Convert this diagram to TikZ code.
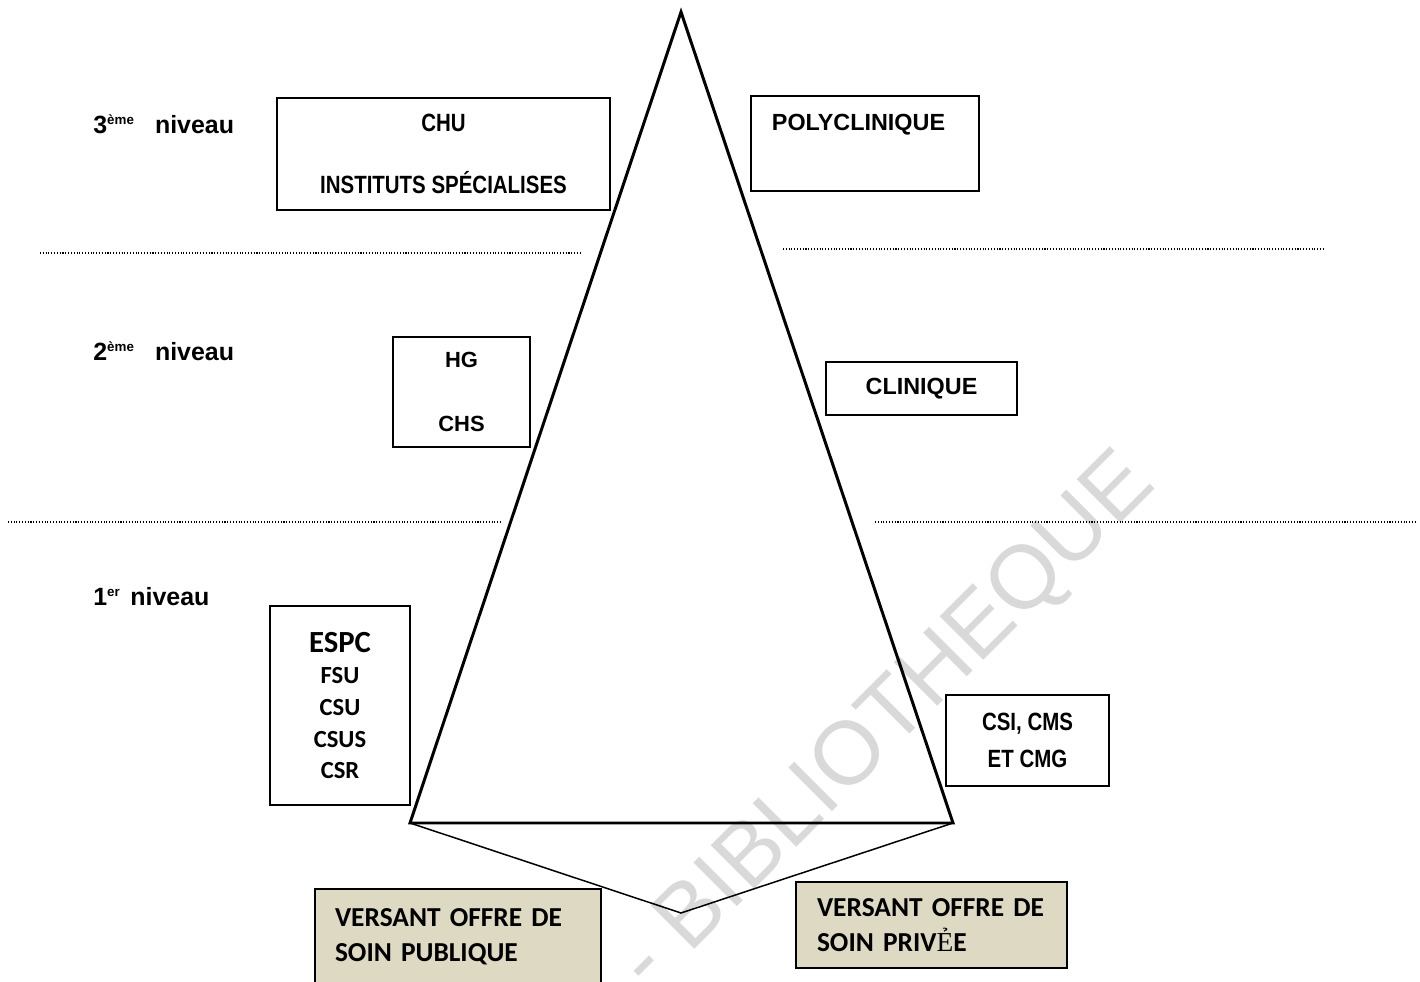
\documentclass[tikz,border=0pt]{standalone}
\usepackage{fontspec}
\setmainfont{Liberation Sans}
\newfontfamily\narrowfont[FakeStretch=0.82]{Liberation Sans}
\newfontfamily\calibrifont{Carlito}
\newfontfamily\timesfont{Liberation Serif}
\newcommand{\lvlsup}[1]{\raisebox{5.5pt}{\fontsize{7.6}{8}\selectfont #1}}
\definecolor{versantfill}{HTML}{DDD9C3}
\definecolor{wmgray}{HTML}{D9D9D9}

\begin{document}
\begin{tikzpicture}[x=0.02cm,y=-0.02cm,
  level node/.style={anchor=base west,inner sep=0,font=\bfseries\fontsize{14.2}{17}\selectfont},
  box node/.style={draw,line width=1.1pt,inner sep=0,align=center},
  versant node/.style={box node,fill=versantfill,align=left,
    font=\calibrifont\bfseries\fontsize{15.6}{20}\selectfont},
  sep line/.style={densely dotted,line width=0.6pt},
  pyramid/.style={line width=1.7pt,line join=miter}]

  \useasboundingbox (0,0) rectangle (1420,982);

  \node[text=wmgray,rotate=45,anchor=base east,inner sep=0,
    font=\fontsize{51}{51}\selectfont] (wm) at (1158,486) {- BIBLIOTHEQUE};

  \coordinate (apex) at (681,12);
  \coordinate (bl) at (410,823);
  \coordinate (br) at (953,823);
  \coordinate (tip) at (681,913);

  \node[level node] (lvl3) at (93,134) {3\lvlsup{ème}\hspace{12pt}niveau};
  \node[level node] (lvl2) at (93,361) {2\lvlsup{ème}\hspace{12pt}niveau};
  \node[level node] (lvl1) at (93,606) {1\lvlsup{er}\hspace{6pt}niveau};

  \node[box node,minimum width=6.66cm,minimum height=2.24cm,
    font=\narrowfont\bfseries\fontsize{14.2}{35.2}\selectfont]
    (chu) at (443.5,154) {CHU\\INSTITUTS SPÉCIALISES};
  \node[box node,anchor=north west,align=left,inner xsep=0.42cm,inner ysep=0.36cm,
    text width=3.72cm,text height=0.34cm,text depth=0.84cm,
    font=\bfseries\fontsize{13.3}{16}\selectfont]
    (poly) at (750,95) {POLYCLINIQUE};
  \node[box node,minimum width=2.74cm,minimum height=2.2cm,
    font=\bfseries\fontsize{12.5}{36}\selectfont]
    (hg) at (461.5,392) {HG\\CHS};
  \node[box node,minimum width=3.82cm,minimum height=1.06cm,
    font=\bfseries\fontsize{13.3}{16}\selectfont]
    (clin) at (921.5,388.5) {CLINIQUE};
  \node[box node,minimum width=2.8cm,minimum height=3.98cm,
    font=\calibrifont\bfseries\fontsize{14}{18}\selectfont]
    (espc) at (340,705.5) {{\fontsize{17.5}{20}\selectfont ESPC}\\FSU\\CSU\\CSUS\\CSR};
  \node[box node,minimum width=3.26cm,minimum height=1.82cm,
    font=\narrowfont\bfseries\fontsize{14.2}{21}\selectfont]
    (csi) at (1027.5,740.5) {CSI, CMS\\ET CMG};

  \node[versant node,inner xsep=0.4cm,text width=4.92cm,minimum height=1.92cm]
    (pub) at (458,937) {VERSANT OFFRE DE\\SOIN PUBLIQUE};
  \node[versant node,inner xsep=0.42cm,text width=4.58cm,minimum height=1.72cm]
    (priv) at (931.5,925) {VERSANT OFFRE DE\\SOIN PRIV{\timesfont\mdseries Ẻ}E};

  \draw[sep line] (40,253) -- (582,253);
  \draw[sep line] (783,249) -- (1323,249);
  \draw[sep line] (8,522) -- (500,522);
  \draw[sep line] (875,522) -- (1416,522);

  \draw[pyramid] (apex) -- (bl) -- (br) -- cycle;
  \draw[line width=0.85pt] (bl) -- (tip) -- (br);
\end{tikzpicture}
\end{document}
